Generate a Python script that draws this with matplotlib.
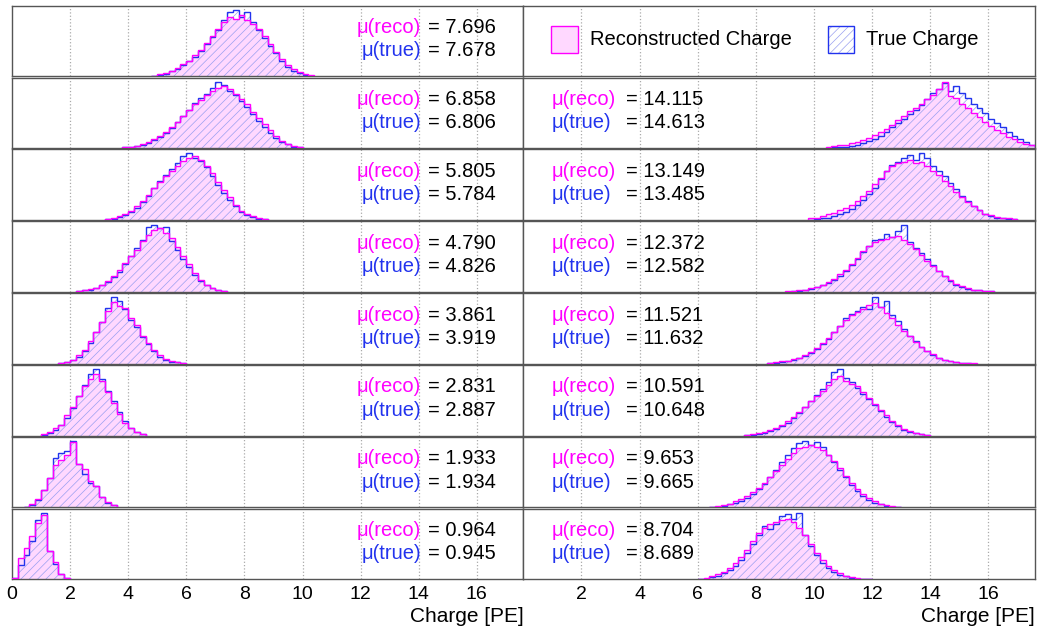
import matplotlib
matplotlib.use("Agg")
import matplotlib.pyplot as plt
import numpy as np
from matplotlib.patches import Rectangle

plt.rcParams['font.family'] = ['Liberation Sans', 'DejaVu Sans']
plt.rcParams['hatch.linewidth'] = 0.5

BW = 0.2
left_mu_reco = ["7.696", "6.858", "5.805", "4.790", "3.861", "2.831", "1.933", "0.964"]
left_mu_true = ["7.678", "6.806", "5.784", "4.826", "3.919", "2.887", "1.934", "0.945"]
left_start = [4.8, 3.8, 3.2, 2.2, 1.6, 1.0, 0.4, 0.0]
left_reco = [
    [1,3,5,8,12,17,22,30,38,48,58,68,78,85,82,88,80,75,68,58,46,35,25,16,10,6,3,2],
    [1,2,3,5,8,12,16,22,28,35,42,50,58,64,70,76,80,82,78,72,65,58,48,40,32,24,16,10,6,3,1],
    [2,3,5,8,12,18,25,33,42,50,58,65,72,78,82,85,80,72,62,50,40,30,20,12,8,5,3,1],
    [1,2,4,6,10,15,22,30,40,50,58,70,78,85,88,82,75,62,50,38,26,16,10,6,3,1],
    [1,3,6,12,20,32,45,60,75,88,82,80,65,55,40,30,20,12,7,4,2,1],
    [2,5,10,15,28,40,55,68,78,85,75,60,45,30,18,10,5,2],
    [1,5,12,25,42,60,68,75,93,62,55,38,30,15,8,3],
    [2,30,45,62,80,92,40,25,8,2],
]
left_true = [
    [1,2,4,7,11,16,22,28,36,46,56,66,80,92,95,85,92,78,66,55,44,33,22,14,8,5,2,1],
    [1,2,3,4,7,11,15,20,27,35,42,50,60,66,72,80,88,84,76,70,62,55,45,36,28,20,13,8,5,2,1],
    [1,2,4,7,11,16,24,32,42,52,60,68,75,85,88,82,78,70,58,47,36,26,18,11,7,4,2,1],
    [1,2,3,5,9,14,20,28,38,50,60,72,90,92,88,90,70,58,45,34,24,15,9,5,3,1],
    [1,2,5,10,18,30,45,60,80,95,90,78,62,52,38,28,18,10,6,3,2,1],
    [1,4,8,15,25,38,55,70,85,92,78,62,48,32,20,10,5,2],
    [1,4,10,25,42,70,78,80,95,62,48,35,30,15,6,3],
    [2,20,35,55,85,95,40,22,8,2],
]
right_mu_reco = ["14.115", "13.149", "12.372", "11.521", "10.591", "9.653", "8.704"]
right_mu_true = ["14.613", "13.485", "12.582", "11.632", "10.648", "9.665", "8.689"]
right_start = [10.4, 9.8, 9.0, 8.4, 7.6, 6.4, 6.0]
right_reco = [
    [2,3,5,4,7,9,11,14,18,22,26,32,38,44,50,55,60,66,72,80,90,70,68,60,55,48,42,36,30,25,20,15,12,9,6,4],
    [2,3,5,7,9,12,15,19,24,30,36,44,52,60,66,70,72,74,70,72,66,60,55,48,42,35,28,22,17,12,8,6,4,3,2,1],
    [1,1,2,3,5,7,10,14,18,24,30,38,46,55,62,68,70,72,74,75,70,65,58,50,42,35,28,22,16,11,8,5,3,2,1,1],
    [1,2,3,4,6,8,11,15,20,26,33,40,48,56,62,66,70,75,78,72,65,58,50,42,35,28,22,16,12,8,5,3,2,1,1,1],
    [1,2,3,5,8,11,15,20,26,33,40,48,55,62,70,78,82,75,72,68,60,52,44,36,28,20,14,9,6,4,2,1],
    [1,2,3,5,8,11,15,20,26,33,40,48,56,64,72,78,80,82,80,76,70,62,52,42,33,25,18,12,8,5,3,2,1],
    [1,2,4,7,10,15,22,30,40,52,62,70,75,78,80,82,78,70,60,48,36,26,18,12,8,5,3,2,1,1],
]
right_true = [
    [0,1,1,2,3,5,7,10,13,17,22,28,34,40,46,52,58,66,74,80,88,78,84,75,68,60,54,48,40,34,28,22,16,12,8,5],
    [0,1,2,3,5,7,10,14,19,25,32,40,50,60,68,72,76,80,74,82,76,66,60,54,46,38,30,23,17,12,8,5,3,2,1,1],
    [0,1,1,2,4,6,9,12,16,22,28,36,45,54,62,70,72,78,74,82,90,68,60,52,44,36,28,21,15,10,7,4,3,2,1,1],
    [1,1,2,3,5,7,10,14,19,25,32,40,48,58,64,68,72,70,85,72,80,62,55,45,36,29,22,16,11,7,5,3,2,1,1,0],
    [1,1,2,4,6,9,13,18,24,31,40,48,56,64,74,88,92,80,74,66,58,50,42,34,26,19,13,8,5,3,2,1],
    [1,1,2,4,6,9,13,18,24,31,40,50,60,70,78,85,88,82,86,80,70,60,50,40,30,22,15,10,6,4,2,1,1],
    [1,1,3,5,8,12,18,26,36,48,60,72,68,75,85,88,82,90,60,45,33,22,15,10,6,4,2,1,1,0],
]

MAG = '#ff00ff'
BLU = '#2233ee'
HATCH = '#9aa0f0'
PINK = '#ffd8ff'
XMAX = 17.6

fig = plt.figure(figsize=(10.41, 6.42), dpi=100)
L, R, B, T = 0.0115, 0.994, 0.0966, 0.992
W = (R - L) / 2
gap = 0.002
H = (T - B) / 8

def make_ax(col, row):
    ax = fig.add_axes([L + col * W, T - (row + 1) * H + gap / 2, W, H - gap])
    ax.set_xlim(0, XMAX)
    for s in ax.spines.values():
        s.set_color('#555555'); s.set_linewidth(1.0)
    for g in range(2, 17, 2):
        ax.axvline(g, color='#aaaaaa', ls=':', lw=0.9, zorder=0)
    ax.set_yticks([])
    ax.set_xticks(range(0, 17, 2))
    ax.tick_params(axis='x', direction='in', length=0, labelsize=14, pad=5)
    if row < 7:
        ax.set_xticklabels([])
    return ax

def draw(ax, start, reco, true):
    reco = np.array(reco, float); true = np.array(true, float)
    er = start + BW * np.arange(len(reco) + 1)
    et = start + BW * np.arange(len(true) + 1)
    ax.stairs(reco, er, fill=True, facecolor=PINK, edgecolor='none', zorder=1)
    ax.stairs(true, et, fill=True, facecolor='none', edgecolor=HATCH, hatch='////', lw=0, zorder=2)
    ax.stairs(true, et, color=BLU, lw=1.0, zorder=3)
    ax.stairs(reco, er, color=MAG, lw=1.0, zorder=4)
    ax.set_ylim(0, max(reco.max(), true.max()) * 1.06)

def labels(ax, xn, xe, r, t, ha):
    for y, name, col, v in [(0.69, 'μ(reco)', MAG, r), (0.36, 'μ(true)', BLU, t)]:
        ax.text(xn, y, name, color=col, fontsize=14.5, transform=ax.transAxes, ha=ha, va='center')
        ax.text(xe, y, '= ' + v, color='black', fontsize=14.5, transform=ax.transAxes, ha='left', va='center')

for i in range(8):
    ax = make_ax(0, i)
    draw(ax, left_start[i], left_reco[i], left_true[i])
    labels(ax, 0.80, 0.813, left_mu_reco[i], left_mu_true[i], 'right')
    if i == 7:
        ax.set_xlabel('Charge [PE]', fontsize=15, loc='right', labelpad=3)

ax = make_ax(1, 0)
ax.set_xticks([])
ax.add_patch(Rectangle((0.055, 0.33), 0.052, 0.38, transform=ax.transAxes,
                       facecolor=PINK, edgecolor=MAG, lw=1.0))
ax.add_patch(Rectangle((0.595, 0.33), 0.052, 0.38, transform=ax.transAxes,
                       facecolor='none', edgecolor=HATCH, hatch='////', lw=0))
ax.add_patch(Rectangle((0.595, 0.33), 0.052, 0.38, transform=ax.transAxes,
                       facecolor='none', edgecolor=BLU, lw=1.0))
ax.text(0.13, 0.52, 'Reconstructed Charge', fontsize=14.5, transform=ax.transAxes, va='center')
ax.text(0.67, 0.52, 'True Charge', fontsize=14.5, transform=ax.transAxes, va='center')

for j in range(7):
    ax = make_ax(1, j + 1)
    draw(ax, right_start[j], right_reco[j], right_true[j])
    labels(ax, 0.055, 0.2, right_mu_reco[j], right_mu_true[j], 'left')
    if j == 6:
        ax.set_xticks(range(2, 17, 2))
        ax.set_xlabel('Charge [PE]', fontsize=15, loc='right', labelpad=3)

fig.savefig('out.png', dpi=100)
